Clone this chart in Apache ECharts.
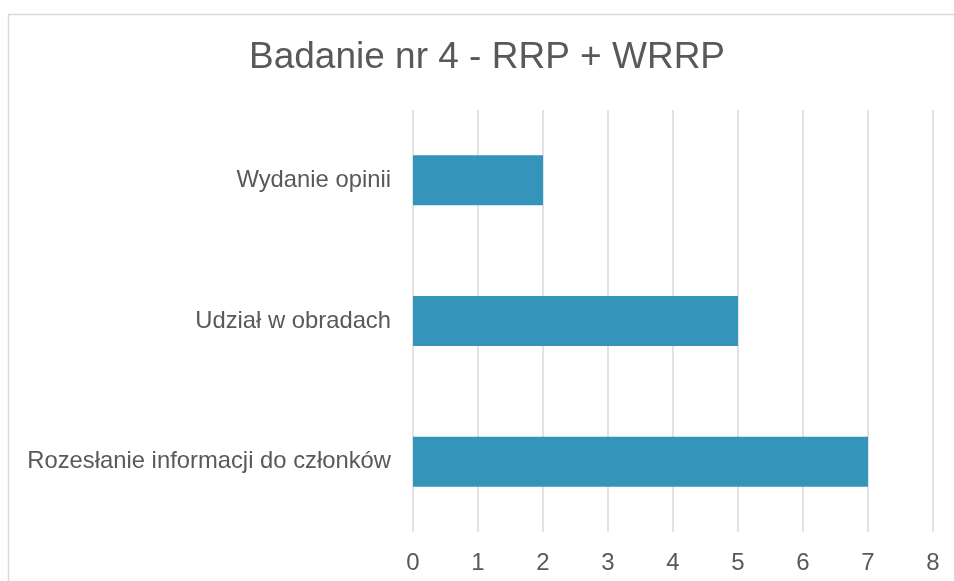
<!DOCTYPE html>
<html>
<head>
<meta charset="utf-8">
<script src="https://cdn.jsdelivr.net/npm/echarts@6/dist/echarts.min.js"></script>
<style>html,body{margin:0;padding:0;background:#fff}#c{width:954px;height:581px}</style>
</head>
<body>
<div id="c"></div>
<script>
const titleText = "Badanie nr 4 - RRP + WRRP";
const categories = ["Rozesłanie informacji do członków", "Udział w obradach", "Wydanie opinii"];
const values = [7, 5, 2];
const xTicks = { min: 0, max: 8, interval: 1 };

const chart = echarts.init(document.getElementById('c'), null, { renderer: 'canvas' });
chart.setOption({
  animation: false,
  backgroundColor: '#ffffff',
  title: {
    text: titleText,
    left: 249,
    top: 39,
    padding: 0,
    textStyle: { fontFamily: 'Liberation Sans', fontSize: 37, fontWeight: 'normal', color: '#595959' }
  },
  graphic: [{
    type: 'rect', silent: true, z: -1,
    shape: { x: 8.5, y: 14.5, width: 1000, height: 1000 },
    style: { fill: 'none', stroke: '#d9d9d9', lineWidth: 1.5 }
  }],
  grid: { left: 413, right: 21, top: 110, bottom: 49, containLabel: false },
  xAxis: {
    type: 'value', min: xTicks.min, max: xTicks.max, interval: xTicks.interval,
    axisLine: { show: false }, axisTick: { show: false },
    splitLine: { show: true, lineStyle: { color: '#d9d9d9', width: 1.5 } },
    axisLabel: { fontFamily: 'Liberation Sans', fontSize: 24, color: '#595959', margin: 19 }
  },
  yAxis: {
    type: 'category', data: categories,
    axisLine: { show: false }, axisTick: { show: false },
    axisLabel: { fontFamily: 'Liberation Sans', fontSize: 23.8, color: '#595959', margin: 22 }
  },
  series: [{
    type: 'bar', data: values, barWidth: 50,
    itemStyle: { color: '#3494ba' }
  }]
});
</script>
</body>
</html>
